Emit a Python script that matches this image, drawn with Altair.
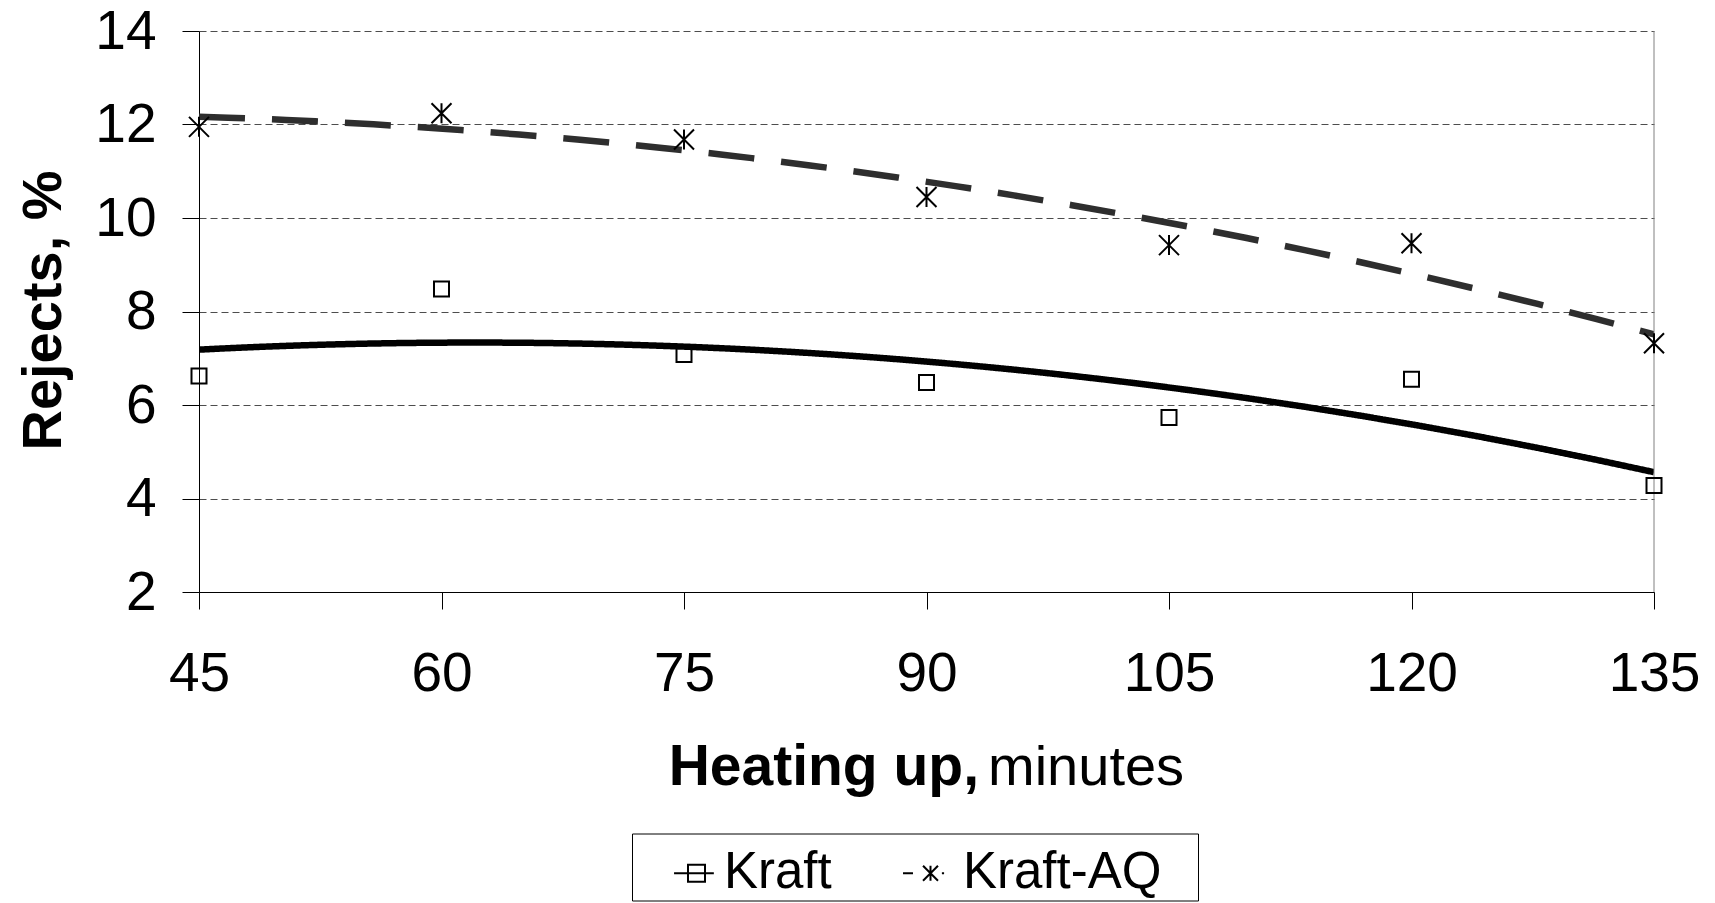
import altair as alt
import pandas as pd

minutes = [45, 60, 75, 90, 105, 120, 135]
kraft = [6.62, 8.48, 7.08, 6.48, 5.73, 6.55, 4.28]
kraft_aq = [11.95, 12.24, 11.68, 10.45, 9.42, 9.46, 7.32]
series_names = ["Kraft", "Kraft-AQ"]
y_ticks = [2, 4, 6, 8, 10, 12, 14]
x_ticks = [45, 60, 75, 90, 105, 120, 135]

rows = []
for m, v in zip(minutes, kraft):
    rows.append({"minutes": m, "value": v, "series": "Kraft"})
for m, v in zip(minutes, kraft_aq):
    rows.append({"minutes": m, "value": v, "series": "Kraft-AQ"})
df = pd.DataFrame(rows)

FONT = "Liberation Sans"

x_enc = alt.X(
    "minutes:Q",
    scale=alt.Scale(domain=[45, 135], nice=False, zero=False),
    axis=alt.Axis(
        values=x_ticks, grid=False, title=None, labelFontSize=55, labelFont=FONT,
        labelColor="black", tickSize=17, tickColor="black", domainColor="black",
        labelPadding=38, labelFlush=False, labelOverlap=False,
    ),
)
y_enc = alt.Y(
    "value:Q",
    scale=alt.Scale(domain=[2, 14], nice=False, zero=False),
    axis=alt.Axis(
        values=y_ticks, grid=True, gridDash=[7, 4], gridColor="#4d4d4d", gridWidth=1,
        labelFontSize=55, labelFont=FONT, labelColor="black", tickSize=17,
        tickColor="black", domainColor="black", labelPadding=26,
        title="Rejects, %", titleFont=FONT, titleFontSize=56, titleFontWeight="bold",
        titleColor="black", titleAngle=270, titleX=-139, titleY=279,
        titleAlign="center", titleBaseline="alphabetic",
    ),
)

base = alt.Chart(df)

border = alt.Chart(pd.DataFrame({"minutes": [135]})).mark_rule(
    color="#808080", strokeWidth=1
).encode(x=alt.X("minutes:Q"), y=alt.datum(2), y2=alt.datum(14))

trend = base.transform_regression(
    "minutes", "value", method="poly", order=2, groupby=["series"]
).mark_line(strokeWidth=6.5, clip=True).encode(
    x=x_enc,
    y=y_enc,
    color=alt.Color("series:N", scale=alt.Scale(domain=series_names, range=["black", "#2e2e2e"]), legend=None),
    strokeDash=alt.StrokeDash("series:N", scale=alt.Scale(domain=series_names, range=[[1, 0], [46, 27]]), legend=None),
)

pts_kraft = base.transform_filter("datum.series == 'Kraft'").mark_point(
    shape="square", size=225, filled=False, stroke="black", strokeWidth=2, opacity=1
).encode(x="minutes:Q", y="value:Q")

asterisk = "M-1,-1L1,1M-1,1L1,-1M0,-1L0,1"
pts_aq = base.transform_filter("datum.series == 'Kraft-AQ'").mark_point(
    shape=asterisk, size=400, filled=False, stroke="black", strokeWidth=2, opacity=1
).encode(x="minutes:Q", y="value:Q")

legend_kraft = ("M0.07,0L1.16,0"
                "M0.452,-0.233L0.918,-0.233L0.918,0.233L0.452,0.233Z")
legend_aq = ("M-0.205,0L0.068,0"
             "M0.343,-0.205L0.753,0.205M0.343,0.205L0.753,-0.205M0.548,-0.205L0.548,0.205"
             "M0.86,0L0.92,0")

legend_layer = base.transform_filter("datum.minutes < 0").mark_point(
    filled=False, stroke="black", strokeWidth=2, size=5329
).encode(
    x="minutes:Q",
    y="value:Q",
    shape=alt.Shape(
        "series:N",
        scale=alt.Scale(domain=series_names, range=[legend_kraft, legend_aq]),
        legend=alt.Legend(
            title=".", titleColor="white", titleFontSize=6, titleOrient="right",
            titlePadding=33,
            orient="none", legendX=433, legendY=802.5, direction="horizontal",
            padding=2, strokeColor="black", fillColor="white", labelFont=FONT,
            labelFontSize=51, labelColor="black", labelOffset=15, columnPadding=41,
            symbolSize=5329, symbolStrokeWidth=2, symbolStrokeColor="black",
            symbolFillColor="transparent", symbolOpacity=1, labelLimit=1000,
        ),
    ),
)

title_bold = alt.Chart(pd.DataFrame({"t": ["Heating up,"]})).mark_text(
    align="right", baseline="alphabetic", font=FONT, fontSize=57, fontWeight="bold", color="black"
).encode(text="t:N", x=alt.value(780), y=alt.value(754))
title_reg = alt.Chart(pd.DataFrame({"t": ["minutes"]})).mark_text(
    align="left", baseline="alphabetic", font=FONT, fontSize=56, fontWeight="normal", color="black"
).encode(text="t:N", x=alt.value(789), y=alt.value(754))

chart = alt.layer(
    trend, border, pts_kraft, pts_aq, legend_layer, title_bold, title_reg
).resolve_scale(shape="independent").properties(
    width=1455, height=561,
    autosize=alt.AutoSizeParams(type="none"),
    padding={"left": 199, "top": 31, "right": 61, "bottom": 311},
    background="white",
).configure_view(stroke=None)

chart.save("out.html", embed_options={"renderer": "svg", "actions": False})
